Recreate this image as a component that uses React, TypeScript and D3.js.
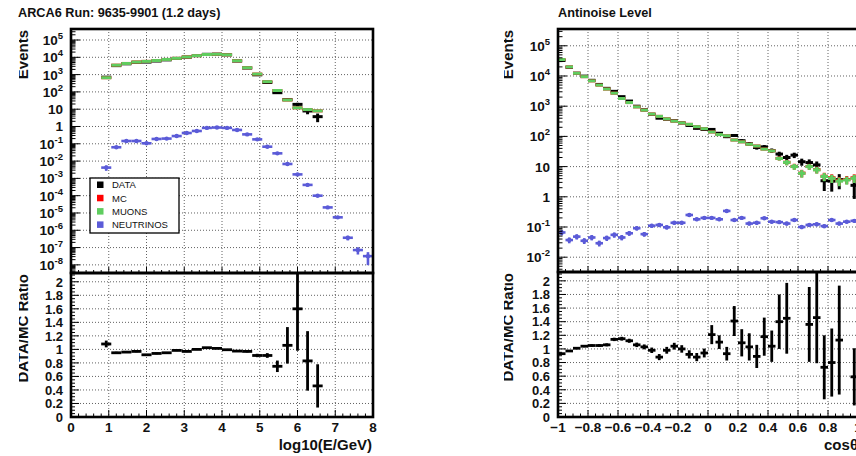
import React from 'react';
import * as d3 from 'd3';

// ================= DATA =================
// Left panel: log10(E/GeV), 30 bins on [0, 8]
const energyDomain: [number, number] = [0, 8];
const energyBinCount = 30;
const energyXTicks = [0, 1, 2, 3, 4, 5, 6, 7, 8];
const energyXTickLabels = ['0', '1', '2', '3', '4', '5', '6', '7', '8'];
const energyDecades = [5, 4, 3, 2, 1, 0, -1, -2, -3, -4, -5, -6, -7, -8];

const energyData: (number | null)[] = [null, null, null, 7.1e2, 3.3e3, 4.2e3, 5.1e3, 5.3e3, 6.1e3, 7.1e3, 8.6e3, 1.02e4, 1.25e4, 1.49e4, 1.52e4, 1.39e4, 6.1e3, 2.4e3, 9.7e2, 3.5e2, 9.0e1, 3.6e1, 1.9e1, 7.9, 3.7, null, null, null, null, null];
const energyMuons: (number | null)[] = [null, null, null, 6.6e2, 3.5e3, 4.4e3, 5.3e3, 5.8e3, 6.5e3, 7.5e3, 8.7e3, 1.05e4, 1.25e4, 1.45e4, 1.5e4, 1.4e4, 6.3e3, 2.5e3, 1.07e3, 3.9e2, 1.2e2, 3.4e1, 1.2e1, 9.5, 8.0, null, null, null, null, null];
const energyMuonRelErr = [0, 0, 0, 0.03, 0.01, 0.01, 0.01, 0.01, 0.01, 0.01, 0.01, 0.01, 0.01, 0.01, 0.01, 0.01, 0.01, 0.01, 0.02, 0.02, 0.03, 0.05, 0.08, 0.1, 0.1, 0, 0, 0, 0, 0];
const energyNeutrinos: (number | null)[] = [null, null, null, 4.2e-3, 6.3e-2, 1.45e-1, 1.45e-1, 1.07e-1, 1.9e-1, 2.0e-1, 2.8e-1, 4.2e-1, 5.5e-1, 8.3e-1, 8.7e-1, 8.3e-1, 6.3e-1, 3.5e-1, 1.8e-1, 6.8e-2, 2.8e-2, 6.8e-3, 1.7e-3, 4.2e-4, 1.0e-4, 2.1e-5, 5.6e-6, 3.7e-7, 7.2e-8, 3.2e-8];
const energyNeutrinoRelErr = [0, 0, 0, 0.35, 0.05, 0.03, 0.03, 0.03, 0.03, 0.03, 0.03, 0.03, 0.03, 0.03, 0.03, 0.03, 0.03, 0.03, 0.03, 0.03, 0.04, 0.04, 0.05, 0.06, 0.12, 0.15, 0.2, 0.3, 0.45, 0.7];
const energyRatio: (number | null)[] = [null, null, null, 1.08, 0.95, 0.96, 0.97, 0.92, 0.94, 0.95, 0.985, 0.97, 1.0, 1.025, 1.015, 0.995, 0.975, 0.97, 0.91, 0.91, 0.75, 1.06, 1.6, 0.83, 0.46, null, null, null, null, null];
const energyRatioErr = [0, 0, 0, 0.05, 0.015, 0.012, 0.012, 0.012, 0.012, 0.01, 0.01, 0.01, 0.01, 0.01, 0.01, 0.01, 0.012, 0.015, 0.025, 0.035, 0.085, 0.27, 0.62, 0.44, 0.32, 0, 0, 0, 0, 0];

// Right panel: cos(theta), 40 bins on [-1, 1]
const cosDomain: [number, number] = [-1, 1];
const cosBinCount = 40;
const cosXTicks = [-1, -0.8, -0.6, -0.4, -0.2, 0, 0.2, 0.4, 0.6, 0.8, 1];
const cosXTickLabels = ['\u22121', '\u22120.8', '\u22120.6', '\u22120.4', '\u22120.2', '0', '0.2', '0.4', '0.6', '0.8', '1'];
const cosDecades = [5, 4, 3, 2, 1, 0, -1, -2];

const cosData: (number | null)[] = [3.26e4, 1.94e4, 1.24e4, 9.9e3, 7.2e3, 5.25e3, 3.9e3, 3.1e3, 2.07e3, 1.48e3, 1.0e3, 7.6e2, 5.4e2, 4.0e2, 3.7e2, 3.3e2, 2.8e2, 2.3e2, 1.85e2, 1.7e2, 1.7e2, 1.27e2, 9.8e1, 1.07e2, 7.2e1, 5.7e1, 4.3e1, 4.5e1, 3.4e1, 2.6e1, 2.0e1, 2.4e1, 1.45e1, 1.36e1, 1.14e1, 3.4, 3.3, 3.7, null, 2.4];
const cosMuons: (number | null)[] = [3.5e4, 2.0e4, 1.23e4, 9.5e3, 6.9e3, 5.0e3, 3.7e3, 2.7e3, 1.8e3, 1.32e3, 9.5e2, 7.4e2, 5.5e2, 4.6e2, 3.8e2, 3.2e2, 2.8e2, 2.5e2, 2.1e2, 1.8e2, 1.4e2, 1.15e2, 1.05e2, 7.6e1, 6.6e1, 5.5e1, 4.8e1, 3.8e1, 3.3e1, 1.86e1, 1.38e1, 1.0e1, 6.0, 1.0e1, 7.8, 4.7, 4.1, 3.3, 3.6, 4.1];
const cosMuonRelErr = [0.005, 0.005, 0.006, 0.006, 0.007, 0.008, 0.009, 0.01, 0.012, 0.013, 0.015, 0.017, 0.02, 0.022, 0.024, 0.026, 0.028, 0.03, 0.032, 0.035, 0.04, 0.045, 0.05, 0.06, 0.06, 0.07, 0.07, 0.08, 0.1, 0.15, 0.2, 0.22, 0.28, 0.22, 0.25, 0.3, 0.3, 0.32, 0.3, 0.3];
const cosNeutrinos: (number | null)[] = [0.066, 0.037, 0.048, 0.035, 0.045, 0.029, 0.043, 0.055, 0.045, 0.062, 0.091, 0.058, 0.11, 0.117, 0.098, 0.138, 0.138, 0.25, 0.18, 0.2, 0.2, 0.18, 0.34, 0.17, 0.2, 0.13, 0.138, 0.195, 0.15, 0.145, 0.13, 0.17, 0.1, 0.117, 0.123, 0.107, 0.17, 0.13, 0.15, 0.16];
const cosNeutrinoRelErr = [0.2, 0.22, 0.2, 0.22, 0.2, 0.22, 0.2, 0.2, 0.2, 0.18, 0.16, 0.18, 0.15, 0.15, 0.16, 0.14, 0.14, 0.12, 0.13, 0.12, 0.12, 0.13, 0.1, 0.13, 0.12, 0.14, 0.14, 0.12, 0.13, 0.13, 0.14, 0.12, 0.15, 0.14, 0.14, 0.15, 0.12, 0.14, 0.13, 0.13];
// bins whose ratio lies above the plotted range are left empty (null)
const cosRatio: (number | null)[] = [0.93, 0.97, 1.01, 1.04, 1.05, 1.05, 1.06, 1.14, 1.15, 1.12, 1.06, 1.03, 0.98, 0.88, 0.98, 1.04, 1.0, 0.92, 0.88, 0.94, 1.21, 1.10, 0.93, 1.41, 1.09, 1.03, 0.89, 1.18, 1.04, 1.40, 1.45, null, null, 1.36, 1.46, 0.73, 0.80, 1.13, null, 0.59];
const cosRatioErr = [0.01, 0.012, 0.014, 0.015, 0.017, 0.02, 0.022, 0.025, 0.028, 0.03, 0.033, 0.036, 0.04, 0.045, 0.05, 0.05, 0.055, 0.06, 0.06, 0.065, 0.14, 0.1, 0.1, 0.22, 0.2, 0.2, 0.17, 0.28, 0.23, 0.4, 0.52, 0, 0, 0.55, 0.67, 0.47, 0.5, 0.8, 0, 0.42];

const ratioTicks = [0, 0.2, 0.4, 0.6, 0.8, 1, 1.2, 1.4, 1.6, 1.8, 2];
const ratioTickLabels = ['0', '0.2', '0.4', '0.6', '0.8', '1', '1.2', '1.4', '1.6', '1.8', '2'];

const legendLabels = ['DATA', 'MC', 'MUONS', 'NEUTRINOS'];
const legendColors = ['#000000', '#ff0000', '#5fcd5f', '#5b5bd8'];

// ================= RENDER =================
const FONT = "'Liberation Sans', Arial, Helvetica, sans-serif";
const C_DATA = legendColors[0];
const C_MC = legendColors[1];
const C_MU = legendColors[2];
const C_NU = legendColors[3];

type Spec = {
  id: string;
  title: string;
  titleX: number;
  fx0: number; fx1: number;
  ty0: number; ty1: number;
  ry0: number; ry1: number;
  xDomain: [number, number];
  nBins: number;
  xTicks: number[];
  xTickLabels: string[];
  xMinorStep: number;
  decades: number[];
  logMin: number; logMax: number;
  yTitleX: number;
  padClipX: number;
  xTitle: string;
  xTitleRight: number;
  data: (number | null)[];
  muons: (number | null)[];
  muonRelErr: number[];
  neutrinos: (number | null)[];
  nuRelErr: number[];
  ratio: (number | null)[];
  ratioErr: number[];
  legend: boolean;
};

const RATIO_MAX = 2.13;

function Panel({ s }: { s: Spec }) {
  const xs = d3.scaleLinear().domain(s.xDomain).range([s.fx0, s.fx1]);
  const ys = d3.scaleLog().domain([Math.pow(10, s.logMin), Math.pow(10, s.logMax)]).range([s.ty1, s.ty0]);
  const rs = d3.scaleLinear().domain([0, RATIO_MAX]).range([s.ry1, s.ry0]);
  const binW = (s.xDomain[1] - s.xDomain[0]) / s.nBins;
  const yMinVal = Math.pow(10, s.logMin);

  const gridProps = { stroke: '#3a3a3a', strokeWidth: 0.8, strokeDasharray: '1 2' };

  const xMinors = d3.range(s.xDomain[0], s.xDomain[1] + 1e-9, s.xMinorStep);
  const logMinors: number[] = [];
  for (let k = Math.floor(s.logMin); k <= Math.ceil(s.logMax); k++) {
    for (let m = 1; m <= 9; m++) {
      const v = m * Math.pow(10, k);
      const lv = Math.log10(v);
      if (lv >= s.logMin && lv <= s.logMax) logMinors.push(v);
    }
  }
  const ratioMinors = d3.range(0, RATIO_MAX, 0.05);

  const hist = (
    key: string,
    vals: (number | null)[],
    errs: (v: number, i: number) => number,
    color: string,
    scale: (v: number) => number,
    minVal: number,
    lw: number,
    markerR: number
  ) =>
    vals.map((v, i) => {
      if (v == null || v <= 0) return null;
      const lo = s.xDomain[0] + i * binW;
      const hi = lo + binW;
      const c = lo + binW / 2;
      const e = errs(v, i);
      const y = scale(v);
      return (
        <g key={key + i}>
          <line x1={xs(lo)} x2={xs(hi)} y1={y} y2={y} stroke={color} strokeWidth={lw} />
          {e > 0 && (
            <line x1={xs(c)} x2={xs(c)} y1={scale(Math.max(v - e, minVal))} y2={scale(v + e)} stroke={color} strokeWidth={lw} />
          )}
          {markerR > 0 && <circle cx={xs(c)} cy={y} r={markerR} fill={color} />}
        </g>
      );
    });

  const mc = s.muons.map((m, i) => (m == null ? null : m + (s.neutrinos[i] ?? 0)));

  const labelStyle = { fontFamily: FONT, fontWeight: 700 as const, fill: '#111' };
  const TICK_FS = 13.5;

  return (
    <g>
      <defs>
        <clipPath id={s.id + '-top'}>
          <rect x={s.fx0} y={s.ty0} width={s.fx1 - s.fx0} height={s.ty1 - s.ty0} />
        </clipPath>
        <clipPath id={s.id + '-ratio'}>
          <rect x={s.fx0} y={s.ry0} width={s.fx1 - s.fx0} height={s.ry1 - s.ry0} />
        </clipPath>
        <clipPath id={s.id + '-pad'}>
          <rect x={s.padClipX} y={0} width={1000} height={456} />
        </clipPath>
      </defs>

      {/* title */}
      <text x={s.titleX} y={17} fontSize={12.7} {...labelStyle}>{s.title}</text>

      {/* ===== top plot grid ===== */}
      {s.xTicks.map((t) => (
        <line key={'gx' + t} x1={xs(t)} x2={xs(t)} y1={s.ty0} y2={s.ty1} {...gridProps} />
      ))}
      {s.decades.map((d) => (
        <line key={'gy' + d} x1={s.fx0} x2={s.fx1} y1={ys(Math.pow(10, d))} y2={ys(Math.pow(10, d))} {...gridProps} />
      ))}
      {/* ===== ratio grid ===== */}
      {s.xTicks.map((t) => (
        <line key={'rgx' + t} x1={xs(t)} x2={xs(t)} y1={s.ry0} y2={s.ry1} {...gridProps} />
      ))}
      {ratioTicks.map((t) => (
        <line key={'rgy' + t} x1={s.fx0} x2={s.fx1} y1={rs(t)} y2={rs(t)} {...gridProps} />
      ))}

      {/* ===== top plot series ===== */}
      <g clipPath={`url(#${s.id}-top)`}>
        {hist('d', s.data, (v) => Math.sqrt(v), C_DATA, ys, yMinVal, 3, 0)}
        {hist('mc', mc, (v, i) => v * s.muonRelErr[i], C_MC, ys, yMinVal, 3, 0)}
        {hist('mu', s.muons, (v, i) => v * s.muonRelErr[i], C_MU, ys, yMinVal, 3, 0)}
        {hist('nu', s.neutrinos, (v, i) => v * s.nuRelErr[i], C_NU, ys, yMinVal, 2.6, 2.2)}
      </g>

      {/* ===== ratio series ===== */}
      <g clipPath={`url(#${s.id}-ratio)`}>
        {hist('r', s.ratio, (v, i) => s.ratioErr[i], C_DATA, rs, 0, 2.8, 0)}
      </g>

      {/* ===== axis ticks ===== */}
      {logMinors.map((v, i) => {
        const major = Math.abs(Math.log10(v) - Math.round(Math.log10(v))) < 1e-9;
        return <line key={'lt' + i} x1={s.fx0} x2={s.fx0 + (major ? 9 : 4.5)} y1={ys(v)} y2={ys(v)} stroke="#000" strokeWidth={1} />;
      })}
      {xMinors.map((t, i) => {
        const major = s.xTicks.some((m) => Math.abs(m - t) < 1e-9);
        return <line key={'tx' + i} x1={xs(t)} x2={xs(t)} y1={s.ty1} y2={s.ty1 - (major ? 6 : 3)} stroke="#000" strokeWidth={1} />;
      })}
      {ratioMinors.map((t, i) => {
        const major = Math.abs(t * 5 - Math.round(t * 5)) < 1e-9;
        return <line key={'rt' + i} x1={s.fx0} x2={s.fx0 + (major ? 8 : 4)} y1={rs(t)} y2={rs(t)} stroke="#000" strokeWidth={1} />;
      })}
      {xMinors.map((t, i) => {
        const major = s.xTicks.some((m) => Math.abs(m - t) < 1e-9);
        return <line key={'rx' + i} x1={xs(t)} x2={xs(t)} y1={s.ry1} y2={s.ry1 - (major ? 7 : 3.5)} stroke="#000" strokeWidth={1} />;
      })}

      {/* ===== frames ===== */}
      <rect x={s.fx0} y={s.ty0} width={s.fx1 - s.fx0} height={s.ty1 - s.ty0} fill="none" stroke="#000" strokeWidth={2.6} />
      <rect x={s.fx0} y={s.ry0} width={s.fx1 - s.fx0} height={s.ry1 - s.ry0} fill="none" stroke="#000" strokeWidth={2.6} />

      {/* ===== tick labels ===== */}
      {s.decades.map((d) => {
        const y = ys(Math.pow(10, d)) + 5;
        if (d === 0) return <text key={'yl' + d} x={s.fx0 - 8} y={y} fontSize={TICK_FS} textAnchor="end" {...labelStyle}>1</text>;
        if (d === 1) return <text key={'yl' + d} x={s.fx0 - 8} y={y} fontSize={TICK_FS} textAnchor="end" {...labelStyle}>10</text>;
        return (
          <text key={'yl' + d} x={s.fx0 - 8} y={y} fontSize={TICK_FS} textAnchor="end" {...labelStyle}>
            10<tspan dy={-6} fontSize={9.5}>{String(d)}</tspan>
          </text>
        );
      })}
      {ratioTicks.map((t, i) => (
        <text key={'rl' + i} x={s.fx0 - 8} y={rs(t) + 4.8} fontSize={13} textAnchor="end" {...labelStyle}>{ratioTickLabels[i]}</text>
      ))}
      {s.xTicks.map((t, i) => (
        <text key={'xl' + i} x={xs(t)} y={432} fontSize={TICK_FS} textAnchor="middle" {...labelStyle}>{s.xTickLabels[i]}</text>
      ))}

      {/* ===== axis titles (clipped by the pad edge, as in the original) ===== */}
      <g clipPath={`url(#${s.id}-pad)`}>
        <text transform={`translate(${s.yTitleX},${s.ty0 + 1}) rotate(-90)`} fontSize={15} textAnchor="end" {...labelStyle}>Events</text>
        <text transform={`translate(${s.yTitleX},${s.ry0 + 1}) rotate(-90)`} fontSize={15} textAnchor="end" {...labelStyle}>DATA/MC Ratio</text>
      </g>
      <text x={s.xTitleRight} y={450} fontSize={15} textAnchor="end" {...labelStyle}>{s.xTitle}</text>

      {/* ===== legend ===== */}
      {s.legend && (
        <g>
          <rect x={90} y={178} width={89} height={55} fill="#fff" stroke="#000" strokeWidth={1.3} />
          {legendLabels.map((l, i) => (
            <g key={'lg' + l}>
              <rect x={97} y={181.5 + i * 13.3} width={6.5} height={6.5} fill={legendColors[i]} />
              <text x={112} y={188.3 + i * 13.3} fontSize={9.5} fontFamily={FONT} fill="#111">{l}</text>
            </g>
          ))}
        </g>
      )}
    </g>
  );
}

const leftSpec: Spec = {
  id: 'left',
  title: 'ARCA6 Run: 9635-9901 (1.2 days)',
  titleX: 18,
  fx0: 71, fx1: 373,
  ty0: 29, ty1: 273,
  ry0: 273, ry1: 417,
  xDomain: energyDomain,
  nBins: energyBinCount,
  xTicks: energyXTicks,
  xTickLabels: energyXTickLabels,
  xMinorStep: 0.2,
  decades: energyDecades,
  logMin: -8.47, logMax: 5.636,
  yTitleX: 27.5,
  padClipX: 19,
  xTitle: 'log10(E/GeV)',
  xTitleRight: 372,
  data: energyData,
  muons: energyMuons,
  muonRelErr: energyMuonRelErr,
  neutrinos: energyNeutrinos,
  nuRelErr: energyNeutrinoRelErr,
  ratio: energyRatio,
  ratioErr: energyRatioErr,
  legend: true,
};

const rightSpec: Spec = {
  id: 'right',
  title: 'Antinoise Level',
  titleX: 558,
  fx0: 558, fx1: 858,
  ty0: 29, ty1: 272,
  ry0: 272, ry1: 417,
  xDomain: cosDomain,
  nBins: cosBinCount,
  xTicks: cosXTicks,
  xTickLabels: cosXTickLabels,
  xMinorStep: 0.05,
  decades: cosDecades,
  logMin: -2.49, logMax: 5.556,
  yTitleX: 512.5,
  padClipX: 504,
  xTitle: 'cos\u03B8',
  xTitleRight: 858,
  data: cosData,
  muons: cosMuons,
  muonRelErr: cosMuonRelErr,
  neutrinos: cosNeutrinos,
  nuRelErr: cosNeutrinoRelErr,
  ratio: cosRatio,
  ratioErr: cosRatioErr,
  legend: false,
};

export default function App() {
  return (
    <svg
      width={856}
      height={456}
      style={{ position: 'absolute', left: 0, top: 0, display: 'block', background: '#fff' }}
    >
      <rect x={0} y={0} width={856} height={456} fill="#fff" />
      <Panel s={leftSpec} />
      <Panel s={rightSpec} />
    </svg>
  );
}
